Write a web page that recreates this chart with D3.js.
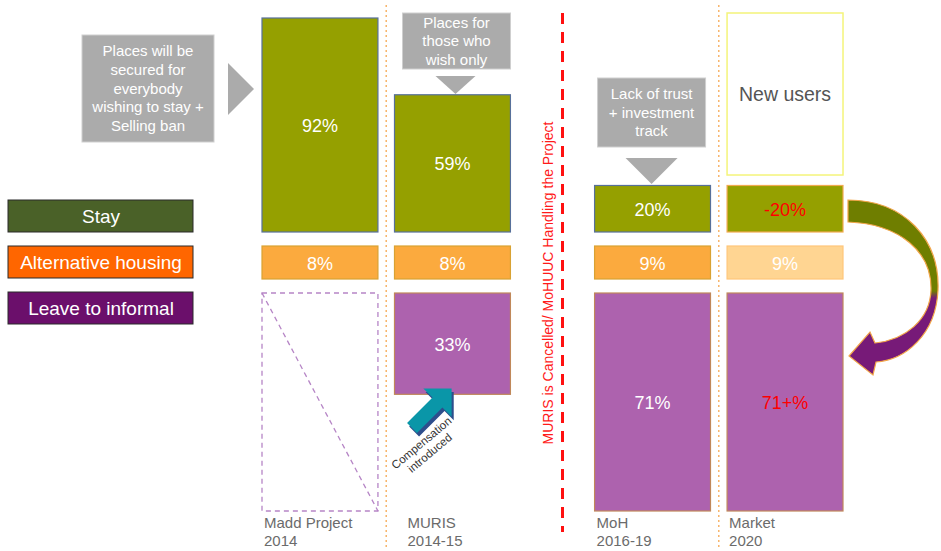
<!DOCTYPE html>
<html>
  <head>
    <meta charset="utf-8">
    <script src="https://d3js.org/d3.v7.min.js"></script>
    <style>
      body { margin: 0; background: #fff; }
      text { font-family: "Liberation Sans", Arial, sans-serif; }
    </style>
  </head>
  <body>
    <div id="chart"></div>
    <script type="text/javascript">

      // data
      var periods = ["Madd Project", "MURIS", "MoH", "Market"];
      var years = ["2014", "2014-15", "2016-19", "2020"];
      var phases = ["Project", "Project", "MoHUUC", "MoHUUC"];
      var stayValues = [92, 59, 20, 20];
      var stayLabels = ["92%", "59%", "20%", "-20%"];
      var altValues = [8, 8, 9, 9];
      var altLabels = ["8%", "8%", "9%", "9%"];
      var leaveValues = [null, 33, 71, 71];
      var leaveLabels = [null, "33%", "71%", "71+%"];
      var legendItems = ["Stay", "Alternative housing", "Leave to informal"];
      var callout1 = ["Places will be", "secured for", "everybody", "wishing to stay +", "Selling ban"];
      var callout2 = ["Places for", "those who", "wish only"];
      var callout3 = ["Lack of trust", "+ investment", "track"];
      var newUsersText = "New users";
      var compensationText = ["Compensation", "introduced"];
      var cancelText = "MURIS is Cancelled/ MoHUUC Handling the Project";

      var width = 941, height = 551;

      var svg = d3.select("#chart")
        .append("svg")
        .attr("width", width)
        .attr("height", height);

      var defs = svg.append("defs");
      var grad = defs.append("linearGradient")
        .attr("id", "curveGrad")
        .attr("gradientUnits", "userSpaceOnUse")
        .attr("x1", 0).attr("y1", 200).attr("x2", 0).attr("y2", 375);
      grad.append("stop").attr("offset", "0%").attr("stop-color", "#6f7e00");
      grad.append("stop").attr("offset", "52%").attr("stop-color", "#6f7e00");
      grad.append("stop").attr("offset", "56%").attr("stop-color", "#771a78");
      grad.append("stop").attr("offset", "100%").attr("stop-color", "#771a78");

      // scales
      var phaseX = d3.scaleBand()
        .domain(["Project", "MoHUUC"])
        .range([262, 843])
        .paddingInner(0.253);
      var colX = d3.scaleBand()
        .domain([0, 1])
        .range([0, phaseX.bandwidth()])
        .paddingInner(0.125);
      var bw = colX.bandwidth();

      function xOf(i) {
        var ph = phases[i];
        var idx = periods.filter(function(p, j) { return phases[j] === ph; }).indexOf(periods[i]);
        return phaseX(ph) + colX(idx);
      }

      var stayBase = 232, altTop = 246, altH = 33, leaveTop = 293;
      var yStay = d3.scaleLinear().domain([0, 92]).range([0, 214]);
      var yLeave = d3.scaleLinear().domain([0, 71]).range([0, 218]);
      var last = periods.length - 1;

      // dotted dividers inside each phase
      ["Project", "MoHUUC"].forEach(function(ph) {
        var dx = phaseX(ph) + colX(1) - colX.step() * colX.paddingInner() / 2;
        svg.append("line")
          .attr("x1", dx).attr("x2", dx)
          .attr("y1", 5).attr("y2", 548)
          .attr("stroke", "#f7b46a")
          .attr("stroke-width", 1.5)
          .attr("stroke-dasharray", "2,3");
      });

      // red cancel line + text
      var gapMid = (phaseX("Project") + phaseX.bandwidth() + phaseX("MoHUUC")) / 2;
      svg.append("line")
        .attr("x1", gapMid + 10).attr("x2", gapMid + 10)
        .attr("y1", 13).attr("y2", 532)
        .attr("stroke", "#ff1010")
        .attr("stroke-width", 3)
        .attr("stroke-dasharray", "11,8");
      svg.append("text")
        .attr("transform", "translate(" + (gapMid) + ",283) rotate(-90)")
        .attr("text-anchor", "middle")
        .attr("font-size", 14)
        .attr("fill", "#ff1a1a")
        .text(cancelText);

      // stay bars
      svg.selectAll(".stay")
        .data(stayValues)
        .enter().append("rect")
        .attr("class", "stay")
        .attr("x", function(d, i) { return xOf(i); })
        .attr("y", function(d) { return stayBase - yStay(d); })
        .attr("width", bw)
        .attr("height", function(d) { return yStay(d); })
        .attr("fill", "#95a000")
        .attr("stroke", function(d, i) { return i === last ? "#f2aa50" : "#57709a"; })
        .attr("stroke-width", 1.2);

      svg.selectAll(".stayLabel")
        .data(stayLabels)
        .enter().append("text")
        .attr("x", function(d, i) { return xOf(i) + bw / 2; })
        .attr("y", function(d, i) { return stayBase - yStay(stayValues[i]) / 2 + 7; })
        .attr("text-anchor", "middle")
        .attr("font-size", 18)
        .attr("fill", function(d, i) { return i === last ? "#ff0000" : "#fff"; })
        .text(function(d) { return d; });

      // alternative housing bars
      svg.selectAll(".alt")
        .data(altValues)
        .enter().append("rect")
        .attr("x", function(d, i) { return xOf(i); })
        .attr("y", altTop)
        .attr("width", bw)
        .attr("height", altH)
        .attr("fill", function(d, i) { return i === last ? "#ffd592" : "#fbaa3e"; })
        .attr("stroke", function(d, i) { return i === last ? "#ffc67a" : "#d9a233"; })
        .attr("stroke-width", 1.2);

      svg.selectAll(".altLabel")
        .data(altLabels)
        .enter().append("text")
        .attr("x", function(d, i) { return xOf(i) + bw / 2; })
        .attr("y", altTop + altH / 2 + 7)
        .attr("text-anchor", "middle")
        .attr("font-size", 18)
        .attr("fill", "#fff")
        .text(function(d) { return d; });

      // leave bars
      var maxLeave = d3.max(leaveValues);
      leaveValues.forEach(function(v, i) {
        if (v == null) {
          var h = yLeave(maxLeave);
          svg.append("rect")
            .attr("x", xOf(i)).attr("y", leaveTop)
            .attr("width", bw).attr("height", h)
            .attr("fill", "none")
            .attr("stroke", "#b685c6")
            .attr("stroke-width", 1.3)
            .attr("stroke-dasharray", "5,4");
          svg.append("line")
            .attr("x1", xOf(i)).attr("y1", leaveTop)
            .attr("x2", xOf(i) + bw).attr("y2", leaveTop + h)
            .attr("stroke", "#b685c6")
            .attr("stroke-width", 1.3)
            .attr("stroke-dasharray", "5,4");
        } else {
          svg.append("rect")
            .attr("x", xOf(i)).attr("y", leaveTop)
            .attr("width", bw).attr("height", yLeave(v))
            .attr("fill", "#ad62ae")
            .attr("stroke", "#c0885a")
            .attr("stroke-width", 1.2);
          svg.append("text")
            .attr("x", xOf(i) + bw / 2)
            .attr("y", leaveTop + yLeave(v) / 2 + 7)
            .attr("text-anchor", "middle")
            .attr("font-size", 18)
            .attr("fill", i === last ? "#ff0000" : "#fff")
            .text(leaveLabels[i]);
        }
      });

      // period labels (MURIS label sits indented in the original)
      periods.forEach(function(p, i) {
        var lx = xOf(i) + (i === 1 ? 13 : 2);
        var t = svg.append("text")
          .attr("font-size", 15)
          .attr("fill", "#6b6b6b");
        t.append("tspan").attr("x", lx).attr("y", 528).text(p);
        t.append("tspan").attr("x", lx).attr("y", 546).text(years[i]);
      });

      // legend
      var legendColors = ["#4a6128", "#ff6600", "#6b0f6b"];
      var legendY = [stayBase - 32, altTop, leaveTop - 1];
      legendItems.forEach(function(d, i) {
        svg.append("rect")
          .attr("x", 8).attr("y", legendY[i])
          .attr("width", 185).attr("height", 32)
          .attr("fill", legendColors[i])
          .attr("stroke", "#2a2a2a")
          .attr("stroke-width", 1);
        svg.append("text")
          .attr("x", 101).attr("y", legendY[i] + 23)
          .attr("text-anchor", "middle")
          .attr("font-size", 19)
          .attr("fill", "#fff")
          .text(d);
      });

      // callouts
      function callout(lines, x, y, w, h, tri, lineH) {
        svg.append("rect")
          .attr("x", x).attr("y", y).attr("width", w).attr("height", h)
          .attr("fill", "#ababab")
          .attr("stroke", "#cfcfcf")
          .attr("stroke-width", 1);
        var top = y + h / 2 - (lines.length - 1) * lineH / 2 + 5;
        lines.forEach(function(l, k) {
          svg.append("text")
            .attr("x", x + w / 2).attr("y", top + k * lineH)
            .attr("text-anchor", "middle")
            .attr("font-size", 15)
            .attr("fill", "#fff")
            .text(l);
        });
        svg.append("path")
          .attr("d", "M" + tri.join("L") + "Z")
          .attr("fill", "#ababab");
      }
      callout(callout1, 82, 35, 132, 107, [[228, 63], [228, 115], [254, 89]], 18.8);
      callout(callout2, xOf(1) + 8, 13, 108, 56, [[xOf(1) + 41, 76], [xOf(1) + 81, 76], [xOf(1) + 61, 94]], 18.5);
      callout(callout3, xOf(2) + 3, 78, 108, 69, [[xOf(2) + 31, 158], [xOf(2) + 83, 158], [xOf(2) + 57, 184]], 18.5);

      // new users box
      svg.append("rect")
        .attr("x", xOf(last)).attr("y", 13)
        .attr("width", bw).attr("height", 162)
        .attr("fill", "#fff")
        .attr("stroke", "#f4f47a")
        .attr("stroke-width", 1.5);
      svg.append("text")
        .attr("x", xOf(last) + bw / 2).attr("y", 101)
        .attr("text-anchor", "middle")
        .attr("font-size", 19.5)
        .attr("fill", "#555")
        .text(newUsersText);

      // compensation arrow
      var arrow = svg.append("g")
        .attr("transform", "translate(412,428) rotate(-45)");
      var arrowPath = "M0,-7 L36,-7 L36,-20 L56,0 L36,20 L36,7 L0,7 Z";
      arrow.append("path")
        .attr("d", arrowPath)
        .attr("transform", "translate(-1,4)")
        .attr("fill", "#2e4e8c");
      arrow.append("path")
        .attr("d", arrowPath)
        .attr("fill", "#0a96a8");
      var comp = svg.append("text")
        .attr("transform", "translate(424,446) rotate(-40)")
        .attr("text-anchor", "middle")
        .attr("font-size", 11.5)
        .attr("fill", "#333");
      comp.append("tspan").attr("x", 0).attr("y", 0).text(compensationText[0]);
      comp.append("tspan").attr("x", 0).attr("y", 13).text(compensationText[1]);

      // curved arrow stay -> leave
      svg.append("path")
        .attr("d", "M848,200 C905,200 940,240 938,290 C936,335 905,360 876,362 L873,375 L849,356 L870,332 L875,343 C905,340 930,320 931,290 C932,252 900,224 848,222 Z")
        .attr("fill", "url(#curveGrad)")
        .attr("stroke", "#f2a64a")
        .attr("stroke-width", 1.2);

    </script>
  </body>
</html>
